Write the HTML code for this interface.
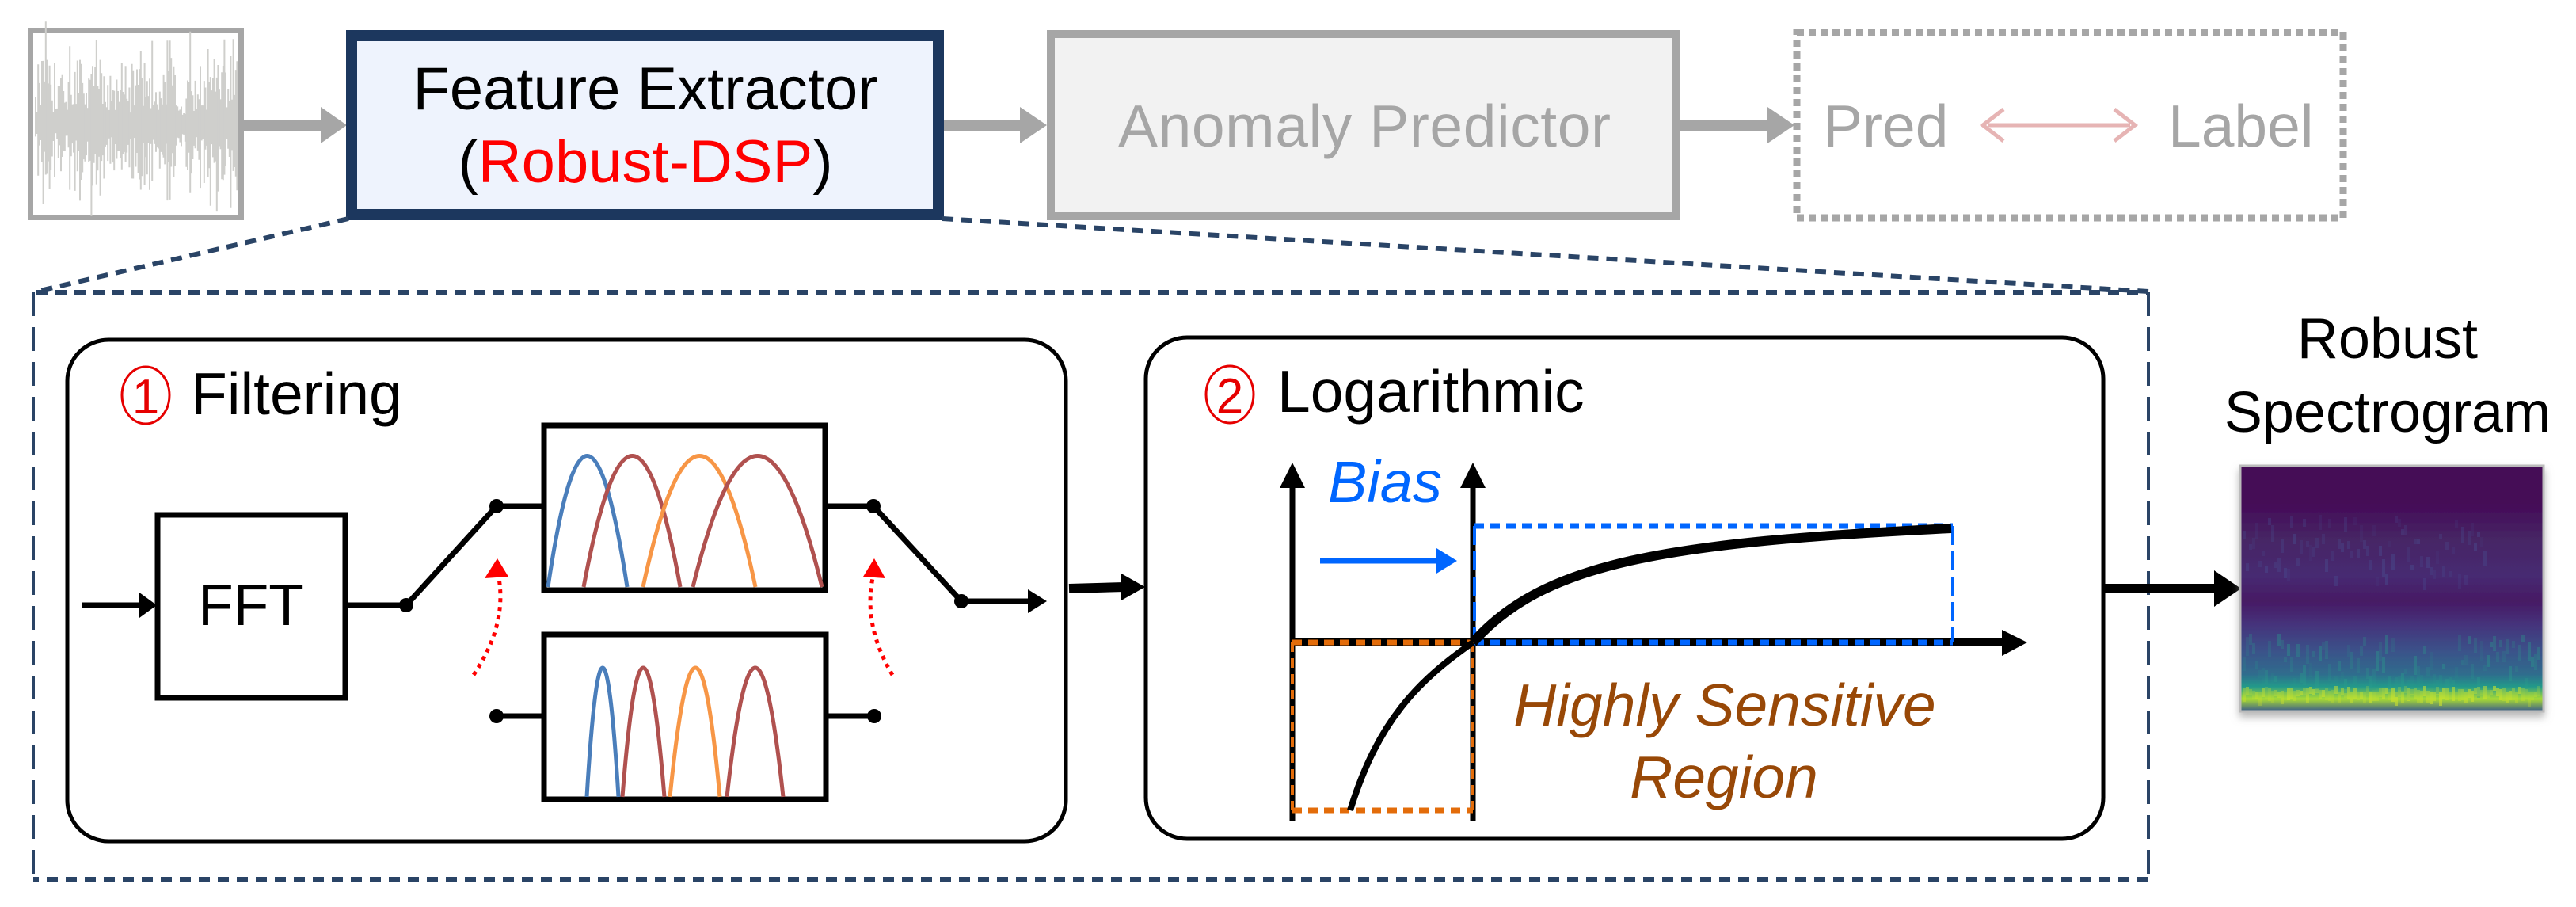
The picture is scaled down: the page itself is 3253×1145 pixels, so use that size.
<!DOCTYPE html>
<html><head><meta charset="utf-8"><style>
html,body{margin:0;padding:0;background:#fff}
svg{display:block}
text{font-family:"Liberation Sans",Arial,sans-serif}
</style></head><body>
<svg id="s" width="3253" height="1145" viewBox="0 0 3253 1145" xmlns="http://www.w3.org/2000/svg">
<defs>
<linearGradient id="sp" x1="0" y1="0" x2="0" y2="1">
<stop offset="0" stop-color="#440a57"/>
<stop offset="0.15" stop-color="#440a57"/>
<stop offset="0.3" stop-color="#462665"/>
<stop offset="0.45" stop-color="#462a72"/>
<stop offset="0.55" stop-color="#461a64"/>
<stop offset="0.65" stop-color="#45347c"/>
<stop offset="0.75" stop-color="#3b5189"/>
<stop offset="0.85" stop-color="#2f6d8d"/>
<stop offset="0.9" stop-color="#239a8a"/>
<stop offset="0.95" stop-color="#a8db34"/>
<stop offset="1" stop-color="#3a5a8c"/>
</linearGradient>
<filter id="sh"><feDropShadow dx="0" dy="6" stdDeviation="5" flood-color="#888" flood-opacity="0.6"/></filter>
</defs>

<!-- waveform box -->
<rect x="38.5" y="38.5" width="266" height="236" fill="#fff" stroke="#a6a6a6" stroke-width="7"/>
<g id="wave" stroke="#cfcfcc" stroke-width="2"></g>
<!-- arrows grey -->
<line x1="308" y1="158" x2="410" y2="158" stroke="#a6a6a6" stroke-width="14"/>
<polygon points="405,135 438,158 405,181" fill="#a6a6a6"/>
<line x1="1192" y1="158" x2="1292" y2="158" stroke="#a6a6a6" stroke-width="14"/>
<polygon points="1288,135 1322,158 1288,181" fill="#a6a6a6"/>
<line x1="2122" y1="158" x2="2235" y2="158" stroke="#a6a6a6" stroke-width="14"/>
<polygon points="2232,135 2266,158 2232,181" fill="#a6a6a6"/>

<!-- Feature Extractor -->
<rect x="444" y="45" width="741" height="226" fill="#eef3fd" stroke="#1c375e" stroke-width="14"/>
<text x="815" y="138" font-size="76" text-anchor="middle" fill="#000">Feature Extractor</text>
<text x="815" y="230" font-size="76" text-anchor="middle" fill="#000">(<tspan fill="#ff0000">Robust-DSP</tspan>)</text>

<!-- Anomaly Predictor -->
<rect x="1327" y="43" width="790" height="230" fill="#f2f2f2" stroke="#a6a6a6" stroke-width="10"/>
<text x="1723" y="185" font-size="75" text-anchor="middle" fill="#a6a6a6" textLength="622">Anomaly Predictor</text>

<!-- Pred Label -->
<rect x="2269" y="41" width="690" height="234" fill="#fff" stroke="#a6a6a6" stroke-width="9" stroke-dasharray="9 6"/>
<text x="2302" y="185" font-size="75" fill="#a6a6a6">Pred</text>
<text x="2738" y="185" font-size="75" fill="#a6a6a6">Label</text>
<line x1="2510" y1="158" x2="2690" y2="158" stroke="#e6b4b4" stroke-width="5"/>
<polyline points="2530,138 2504,158 2530,178" fill="none" stroke="#e6b4b4" stroke-width="5"/>
<polyline points="2670,138 2696,158 2670,178" fill="none" stroke="#e6b4b4" stroke-width="5"/>

<!-- zoom dashed lines -->
<g stroke="#2a4466" stroke-width="6" stroke-dasharray="14 10" fill="none">
<line x1="440" y1="276" x2="46" y2="368"/>
<line x1="1190" y1="276" x2="2713" y2="368"/>
<line x1="46" y1="369" x2="2713" y2="369"/>
<line x1="2713" y1="369" x2="2713" y2="1110" stroke-width="4" stroke-dasharray="30 14"/>
<line x1="2713" y1="1110" x2="42" y2="1110"/>
<line x1="42" y1="369" x2="42" y2="1110" stroke-width="4" stroke-dasharray="30 14"/>
</g>

<!-- Filtering box -->
<rect x="85" y="429" width="1261" height="633" rx="52" fill="#fff" stroke="#000" stroke-width="5"/>
<ellipse cx="184" cy="499" rx="30" ry="36" fill="none" stroke="#e60000" stroke-width="3"/>
<text x="184" y="522" font-size="62" text-anchor="middle" fill="#e60000" font-family="Liberation Serif,serif">1</text>
<text x="241" y="523" font-size="75" fill="#000">Filtering</text>
<!-- FFT -->
<line x1="103" y1="764" x2="180" y2="764" stroke="#000" stroke-width="7"/>
<polygon points="176,748 198,764 176,780" fill="#000"/>
<rect x="199" y="650" width="237" height="231" fill="#fff" stroke="#000" stroke-width="7"/>
<text x="317" y="789" font-size="73" text-anchor="middle" fill="#000">FFT</text>
<line x1="436" y1="764" x2="513" y2="764" stroke="#000" stroke-width="7"/>
<circle cx="513" cy="764" r="9" fill="#000"/>
<line x1="513" y1="764" x2="627" y2="639" stroke="#000" stroke-width="7"/>
<circle cx="627" cy="639" r="9" fill="#000"/>
<line x1="627" y1="639" x2="686" y2="639" stroke="#000" stroke-width="7"/>
<circle cx="1103" cy="639" r="9" fill="#000"/>
<line x1="1043" y1="639" x2="1103" y2="639" stroke="#000" stroke-width="7"/>
<line x1="1103" y1="639" x2="1214" y2="759" stroke="#000" stroke-width="7"/>
<circle cx="1214" cy="759" r="9" fill="#000"/>
<line x1="1214" y1="759" x2="1302" y2="759" stroke="#000" stroke-width="7"/>
<polygon points="1298,744 1322,759 1298,774" fill="#000"/>
<!-- top filter box -->
<rect x="687" y="537" width="355" height="208" fill="#fff" stroke="#000" stroke-width="7"/>
<g fill="none" stroke-width="5">
<path d="M692,741 Q741,410 792,741" stroke="#4a7ebb"/>
<path d="M737,741 Q799,410 859,741" stroke="#b0514f"/>
<path d="M812,741 Q884,410 954,741" stroke="#f79646"/>
<path d="M875,741 Q957,410 1038,741" stroke="#b0514f"/>
</g>
<!-- bottom filter box -->
<rect x="687" y="801" width="356" height="208" fill="#fff" stroke="#000" stroke-width="7"/>
<g fill="none" stroke-width="5">
<path d="M741,1006 Q761,680 781,1006" stroke="#4a7ebb"/>
<path d="M786,1006 Q812,680 839,1006" stroke="#b0514f"/>
<path d="M846,1006 Q879,680 909,1006" stroke="#f79646"/>
<path d="M918,1006 Q954,680 989,1006" stroke="#b0514f"/>
</g>
<circle cx="627" cy="904" r="9" fill="#000"/>
<line x1="627" y1="904" x2="687" y2="904" stroke="#000" stroke-width="7"/>
<circle cx="1104" cy="904" r="9" fill="#000"/>
<line x1="1043" y1="904" x2="1104" y2="904" stroke="#000" stroke-width="7"/>
<!-- red dotted arrows -->
<path d="M598,852 Q640,790 630,730" fill="none" stroke="#ff0000" stroke-width="5" stroke-dasharray="5 6"/>
<polygon points="612,730 628,705 642,728" fill="#ff0000"/>
<path d="M1127,852 Q1090,790 1102,730" fill="none" stroke="#ff0000" stroke-width="5" stroke-dasharray="5 6"/>
<polygon points="1090,728 1104,705 1118,730" fill="#ff0000"/>
<!-- thick arrow -->
<line x1="1350" y1="743" x2="1420" y2="741" stroke="#000" stroke-width="12"/>
<polygon points="1416,724 1446,741 1416,758" fill="#000"/>

<!-- Log box -->
<rect x="1447" y="426" width="1209" height="633" rx="52" fill="#fff" stroke="#000" stroke-width="5"/>
<ellipse cx="1553" cy="498" rx="30" ry="36" fill="none" stroke="#e60000" stroke-width="3"/>
<text x="1553" y="521" font-size="62" text-anchor="middle" fill="#e60000" font-family="Liberation Serif,serif">2</text>
<text x="1613" y="520" font-size="75" fill="#000">Logarithmic</text>
<!-- axes -->
<line x1="1632" y1="1037" x2="1632" y2="610" stroke="#000" stroke-width="7"/>
<polygon points="1616,616 1632,584 1648,616" fill="#000"/>
<line x1="1860" y1="1037" x2="1860" y2="610" stroke="#000" stroke-width="7"/>
<polygon points="1844,616 1860,584 1876,616" fill="#000"/>
<line x1="1632" y1="811" x2="2535" y2="811" stroke="#000" stroke-width="10"/>
<polygon points="2528,795 2560,811 2528,828" fill="#000"/>
<!-- dashed rects -->
<g fill="none" stroke-dasharray="12 8">
<path d="M1632,811 H1860 M1632,1023 H1860" stroke="#e36c0a" stroke-width="7"/>
<path d="M1632,811 V1023 M1860,811 V1023" stroke="#e36c0a" stroke-width="4"/>
<path d="M1862,811 H2466 M1862,664 H2466" stroke="#0066ff" stroke-width="7"/>
<path d="M1862,664 V811 M2466,664 V811" stroke="#0066ff" stroke-width="4" stroke-dasharray="24 8"/>
</g>
<path d="M1705,1023 C1740,910 1790,860 1860,811" fill="none" stroke="#000" stroke-width="8"/>
<path d="M1860,811 C1950,710 2100,685 2464,667" fill="none" stroke="#000" stroke-width="12"/>
<text x="1677" y="634" font-size="74" font-style="italic" fill="#0066ff">Bias</text>
<line x1="1667" y1="708" x2="1822" y2="708" stroke="#0066ff" stroke-width="7"/>
<polygon points="1814,692 1840,708 1814,724" fill="#0066ff"/>
<text x="2178" y="916" font-size="75" font-style="italic" fill="#984807" text-anchor="middle">Highly Sensitive</text>
<text x="2177" y="1007" font-size="75" font-style="italic" fill="#984807" text-anchor="middle">Region</text>
<!-- thick arrow to spectrogram -->
<line x1="2658" y1="743" x2="2800" y2="743" stroke="#000" stroke-width="12"/>
<polygon points="2796,720 2830,743 2796,766" fill="#000"/>
<!-- spectrogram -->
<text x="3015" y="452" font-size="72" text-anchor="middle" fill="#000">Robust</text>
<text x="3015" y="545" font-size="72" text-anchor="middle" fill="#000">Spectrogram</text>
<rect x="2829" y="588" width="383" height="310" fill="url(#sp)" stroke="#bbb" stroke-width="3" filter="url(#sh)"/>
<g id="spn"></g>
</svg>
<script>
(function(){
var s=12345;function r(){s=(s*16807)%2147483647;return s/2147483647;}
var w=document.getElementById('wave'),h='';
for(var x=45;x<300;x+=1.6){var a=(20+r()*85)*(0.7+r()*0.5);var c=156;h+='<line x1="'+x.toFixed(1)+'" y1="'+(c-a*(0.5+r()*0.6)).toFixed(1)+'" x2="'+x.toFixed(1)+'" y2="'+(c+a*(0.5+r()*0.6)).toFixed(1)+'"/>';}
w.innerHTML=h;
var g=document.getElementById('spn'),t='';
for(var x=2832;x<3208;x+=4){t+='<rect x="'+x+'" y="'+(866+r()*8).toFixed(0)+'" width="4" height="'+(6+r()*12).toFixed(0)+'" fill="#d4e62a" opacity="'+(0.2+r()*0.4).toFixed(2)+'"/>';
t+='<rect x="'+x+'" y="'+(800+r()*60).toFixed(0)+'" width="4" height="'+(6+r()*20).toFixed(0)+'" fill="#2a9d8c" opacity="'+(0.1+r()*0.3).toFixed(2)+'"/>';
if(x<3140) t+='<rect x="'+x+'" y="'+(650+r()*80).toFixed(0)+'" width="4" height="'+(6+r()*16).toFixed(0)+'" fill="#4a5a9a" opacity="'+(0.1+r()*0.25).toFixed(2)+'"/>';}
g.innerHTML=t;
})();
</script>
</body></html>
